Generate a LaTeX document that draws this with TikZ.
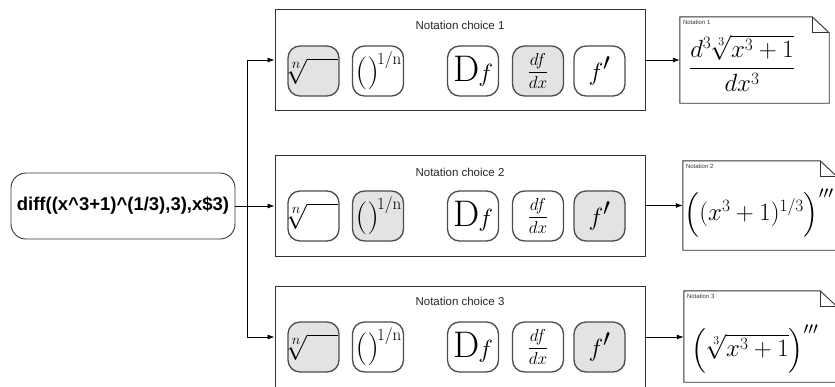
\documentclass[tikz,border=0pt]{standalone}
\usepackage{amsmath}
\usepackage{fontspec}
\setsansfont{Liberation Sans}
\usetikzlibrary{arrows.meta}

% contents of the notation buttons
\newcommand\btnroot{\fontsize{27}{27}\selectfont\kern-4pt$\sqrt[\mbox{\fontsize{15}{15}\selectfont$n$}]{\rule{0pt}{0.82em}\hspace{1.15em}}$}
\newcommand\btnpow{\fontsize{33}{33}\selectfont\kern1pt()\kern-2pt\raisebox{17pt}{\fontsize{17}{17}\selectfont 1/n}}
\newcommand\btnD{\fontsize{37}{37}\selectfont D\kern-1pt$f$}
\newcommand\btnfrac{\fontsize{18}{18}\selectfont$\displaystyle\frac{df}{dx}$}
\newcommand\btnprime{\fontsize{48}{48}\selectfont$f'$}

\begin{document}
\begin{tikzpicture}[x=1pt,y=-1pt,
  panel/.style={draw=black!80, line width=0.9pt, minimum width=370pt,
    minimum height=101pt, inner sep=0pt},
  btn/.style={draw=black!70, line width=1.3pt, rounded corners=12pt,
    minimum width=51pt, minimum height=50pt, inner sep=0pt, fill=white},
  btnon/.style={btn, fill=black!11},
  paneltitle/.style={font=\sffamily\fontsize{11.5}{12}\selectfont, text=black!85},
  notelabel/.style={font=\sffamily\fontsize{6}{7}\selectfont, text=black!80,
    anchor=north west, inner sep=0pt},
  docbox/.style={inner sep=0pt},
  docline/.style={draw=black!80, line width=0.9pt, fill=white},
  arr/.style={draw=black, line width=0.8pt, -{Latex[length=7pt,width=5pt]}},
]
\useasboundingbox (0,0) rectangle (835,386);

% source expression
\node[draw=black!80, line width=0.9pt, rounded corners=15pt, minimum width=224pt,
  minimum height=66pt, font=\sffamily\bfseries\fontsize{18.5}{19}\selectfont]
  (in) at (123,206) {diff((x\^{}3+1)\^{}(1/3),3),x\$3)};

% the three panels of notation choices
\node[panel] (p1) at (460,60) {};
\node[panel] (p2) at (460,205.5) {};
\node[panel, minimum height=102pt] (p3) at (460,337) {};

\node[paneltitle] (t1) at (460,25) {Notation choice 1};
\node[paneltitle] (t2) at (460,172) {Notation choice 2};
\node[paneltitle] (t3) at (460,301) {Notation choice 3};

% panel 1 buttons
\node[btnon] (a1) at (313.5,71) {\btnroot};
\node[btn]   (b1) at (378,71)   {\btnpow};
\node[btn]   (c1) at (473,71)   {\btnD};
\node[btnon] (e1) at (538,71)   {\btnfrac};
\node[btn]   (g1) at (599.5,71) {\btnprime};

% panel 2 buttons
\node[btn]   (a2) at (313.5,216) {\btnroot};
\node[btnon] (b2) at (378,216)   {\btnpow};
\node[btn]   (c2) at (473,216)   {\btnD};
\node[btn]   (e2) at (538,216)   {\btnfrac};
\node[btnon] (g2) at (599.5,216) {\btnprime};

% panel 3 buttons
\node[btnon] (a3) at (313.5,347) {\btnroot};
\node[btn]   (b3) at (378,347)   {\btnpow};
\node[btn]   (c3) at (473,347)   {\btnD};
\node[btn]   (e3) at (538,347)   {\btnfrac};
\node[btnon] (g3) at (599.5,347) {\btnprime};

% resulting notations: note sheets with a folded corner
\node[docbox, minimum width=149pt, minimum height=86pt] (d1) at (754.5,60) {};
\node[docbox, minimum width=154pt, minimum height=89pt] (d2) at (760,205.5) {};
\node[docbox, minimum width=153pt, minimum height=91pt] (d3) at (760.5,336.5) {};
\foreach \d in {d1,d2,d3}{
  \draw[docline] (\d.north west) -- ([xshift=-17pt]\d.north east)
    -- ([yshift=-16pt]\d.north east) -- (\d.south east) -- (\d.south west) -- cycle;
  \draw[docline, fill=none] ([xshift=-17pt]\d.north east)
    -- ([xshift=-17pt,yshift=-16pt]\d.north east) -- ([yshift=-16pt]\d.north east);
}
\node[notelabel] (l1) at ([xshift=3pt,yshift=-3pt]d1.north west) {Notation 1};
\node[notelabel] (l2) at ([xshift=3pt,yshift=-3pt]d2.north west) {Notation 2};
\node[notelabel] (l3) at ([xshift=3pt,yshift=-3pt]d3.north west) {Notation 3};

\node (f1) at (742,63) {\fontsize{25}{25}\selectfont$\displaystyle\frac{d^3\sqrt[3]{x^3+1}}{dx^3}$};
\node (f2) at (759,213) {\fontsize{25}{25}\selectfont$\Bigl((x^3+1)^{1/3}\Bigr)'''$};
\node (f3) at (755,349) {\fontsize{25}{25}\selectfont$\Bigl(\sqrt[3]{x^3+1}\Bigr)'''$};

% connectors
\coordinate (j) at (247,206);
\draw[arr] (in.east) -- (p2.west |- in.east);
\draw[arr] (j) |- (p1.west);
\draw[arr] (j) |- (p3.west);
\draw[arr] (p1.east) -- (p1.east -| d1.west);
\draw[arr] (p2.east) -- (p2.east -| d2.west);
\draw[arr] (p3.east) -- (p3.east -| d3.west);
\end{tikzpicture}
\end{document}
